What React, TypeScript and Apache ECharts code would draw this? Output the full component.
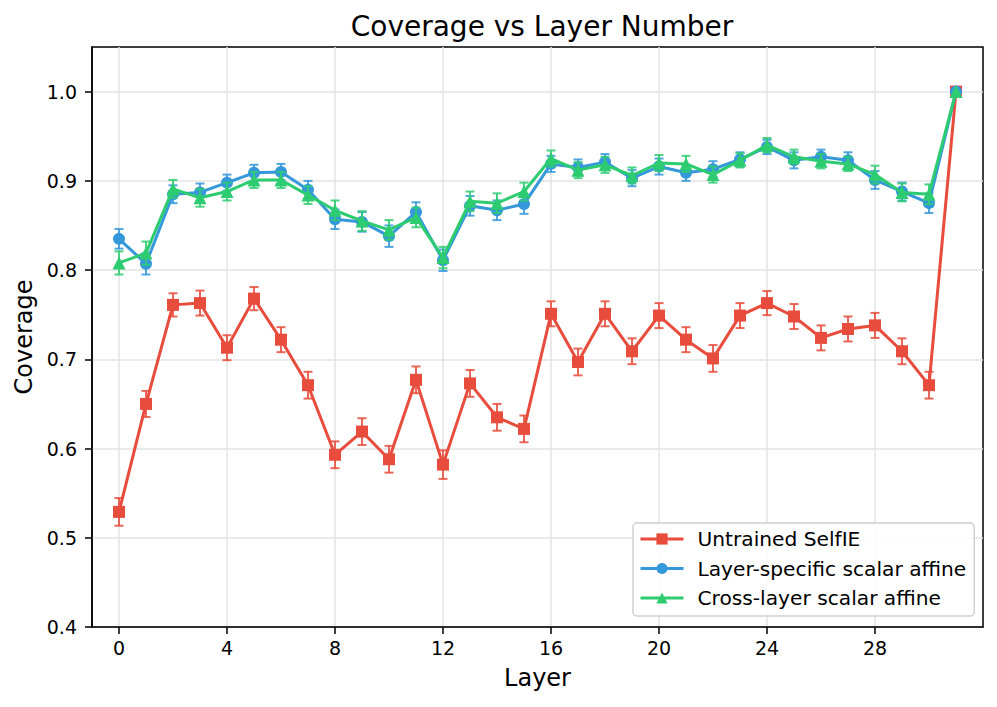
import React, { useEffect, useRef } from "react";
import * as echarts from "echarts";

const layers: number[] = Array.from({ length: 32 }, (_, i) => i);
const xTicks = [0, 4, 8, 12, 16, 20, 24, 28];
const yTicks = [0.4, 0.5, 0.6, 0.7, 0.8, 0.9, 1.0];

const seriesNames = ["Untrained SelfIE", "Layer-specific scalar affine", "Cross-layer scalar affine"];

const untrained = [0.529, 0.650, 0.761, 0.763, 0.713, 0.768, 0.722, 0.671, 0.593, 0.619, 0.588, 0.677, 0.582, 0.673, 0.635, 0.622, 0.751, 0.697, 0.751, 0.709, 0.749, 0.722, 0.701, 0.749, 0.763, 0.748, 0.724, 0.734, 0.738, 0.709, 0.671, 1.0];
const untrainedErr = [0.0155, 0.0146, 0.013, 0.014, 0.014, 0.013, 0.014, 0.015, 0.015, 0.015, 0.015, 0.015, 0.016, 0.015, 0.015, 0.015, 0.014, 0.015, 0.014, 0.0145, 0.014, 0.014, 0.015, 0.014, 0.0135, 0.014, 0.014, 0.014, 0.014, 0.0145, 0.015, 0];

const layerSpecific = [0.835, 0.807, 0.885, 0.887, 0.898, 0.909, 0.910, 0.890, 0.857, 0.854, 0.838, 0.865, 0.811, 0.872, 0.867, 0.874, 0.919, 0.915, 0.921, 0.903, 0.916, 0.909, 0.913, 0.924, 0.938, 0.923, 0.927, 0.923, 0.901, 0.888, 0.875, 1.0];
const layerSpecificErr = [0.011, 0.012, 0.010, 0.010, 0.009, 0.009, 0.009, 0.010, 0.011, 0.011, 0.012, 0.011, 0.012, 0.011, 0.011, 0.011, 0.009, 0.009, 0.009, 0.009, 0.009, 0.009, 0.009, 0.008, 0.008, 0.009, 0.008, 0.009, 0.010, 0.010, 0.011, 0];

const crossLayer = [0.808, 0.819, 0.891, 0.881, 0.888, 0.901, 0.901, 0.884, 0.867, 0.855, 0.845, 0.859, 0.814, 0.877, 0.875, 0.888, 0.925, 0.912, 0.918, 0.906, 0.920, 0.919, 0.907, 0.923, 0.940, 0.927, 0.922, 0.919, 0.907, 0.887, 0.885, 1.0];
const crossLayerErr = [0.013, 0.013, 0.010, 0.010, 0.010, 0.009, 0.009, 0.010, 0.011, 0.011, 0.011, 0.011, 0.012, 0.011, 0.011, 0.010, 0.009, 0.009, 0.009, 0.009, 0.009, 0.009, 0.009, 0.008, 0.008, 0.008, 0.008, 0.008, 0.010, 0.010, 0.011, 0];

const colors = ["#e74c3c", "#3498db", "#2ecc71"];
const symbols = ["rect", "circle", "triangle"];
const symbolSizes = [12, 12, 13];

const FONT = "DejaVu Sans";

function errSeries(vals: number[], errs: number[], color: string, z: number, id: string) {
  return {
    type: "custom",
    name: id,
    z,
    silent: true,
    data: vals.map((v, i) => [layers[i], v - errs[i], v + errs[i]]),
    encode: { x: 0, y: [1, 2] },
    renderItem: (_params: any, api: any) => {
      const x = api.value(0);
      const lo = api.value(1);
      const hi = api.value(2);
      if (hi - lo <= 0) return { type: "group", children: [] };
      const top = api.coord([x, hi]);
      const bot = api.coord([x, lo]);
      const cw = 4.5;
      const st = { stroke: color, lineWidth: 2, opacity: 0.85 };
      return {
        type: "group",
        children: [
          { type: "line", shape: { x1: top[0], y1: top[1], x2: bot[0], y2: bot[1] }, style: st },
          { type: "line", shape: { x1: top[0] - cw, y1: top[1], x2: top[0] + cw, y2: top[1] }, style: st },
          { type: "line", shape: { x1: bot[0] - cw, y1: bot[1], x2: bot[0] + cw, y2: bot[1] }, style: st },
        ],
      };
    },
  };
}

function lineSeries(idx: number, vals: number[], z: number) {
  return {
    type: "line",
    name: seriesNames[idx],
    z,
    data: vals.map((v, i) => [layers[i], v]),
    symbol: symbols[idx],
    symbolSize: symbolSizes[idx],
    showAllSymbol: true,
    lineStyle: { color: colors[idx], width: 3 },
    itemStyle: { color: colors[idx] },
    emphasis: { disabled: true },
  };
}

export default function App() {
  const ref = useRef<HTMLDivElement>(null);
  useEffect(() => {
    if (!ref.current) return;
    const chart = echarts.init(ref.current, undefined, { renderer: "svg" });
    chart.setOption({
      animation: false,
      backgroundColor: "#fff",
      title: {
        text: "Coverage vs Layer Number",
        left: 537,
        textAlign: "center",
        top: 7,
        textStyle: { fontFamily: FONT, fontSize: 28, fontWeight: "normal", color: "#000" },
      },
      grid: {
        left: 92,
        right: 14,
        top: 47,
        bottom: 80,
        show: true,
        borderColor: "#000",
        borderWidth: 1.5,
        backgroundColor: "transparent",
      },
      legend: {
        data: seriesNames,
        orient: "vertical",
        left: 633,
        top: 523,
        padding: [6, 8, 8, 6],
        itemWidth: 43,
        itemHeight: 14,
        itemGap: 9.5,
        lineStyle: { width: 3 },
        backgroundColor: "rgba(255,255,255,0.85)",
        borderColor: "#d0d0d0",
        borderWidth: 1.5,
        borderRadius: 4,
        textStyle: { fontFamily: FONT, fontSize: 20.2, color: "#000", lineHeight: 20, padding: [0, 0, 0, 9] },
      },
      xAxis: {
        type: "value",
        min: -1,
        max: 32,
        name: "Layer",
        nameLocation: "middle",
        nameGap: 39,
        nameTextStyle: { fontFamily: FONT, fontSize: 24, color: "#000" },
        axisLine: { show: true, onZero: false, lineStyle: { color: "#000", width: 1.5 } },
        axisTick: { show: true, inside: false, length: 7, lineStyle: { color: "#000", width: 1.5 }, customValues: xTicks },
        axisLabel: {
          customValues: xTicks,
          margin: 11,
          fontFamily: FONT,
          fontSize: 19,
          color: "#000",
          formatter: (v: number) => String(v),
        },
        splitLine: { show: true, lineStyle: { color: "#e3e3e3", width: 1.5 } },
      },
      yAxis: {
        type: "value",
        min: 0.4,
        max: 1.05,
        name: "Coverage",
        nameLocation: "middle",
        nameGap: 52,
        nameTextStyle: { fontFamily: FONT, fontSize: 24, color: "#000" },
        axisLine: { show: true, onZero: false, lineStyle: { color: "#000", width: 1.5 } },
        axisTick: { show: true, inside: false, length: 7, lineStyle: { color: "#000", width: 1.5 }, customValues: yTicks },
        axisLabel: {
          customValues: yTicks,
          margin: 15,
          fontFamily: FONT,
          fontSize: 19,
          color: "#000",
          formatter: (v: number) => v.toFixed(1),
        },
        splitLine: { show: true, lineStyle: { color: "#e3e3e3", width: 1.5 } },
      },
      series: [
        errSeries(untrained, untrainedErr, colors[0], 2, "err-untrained"),
        lineSeries(0, untrained, 3),
        errSeries(layerSpecific, layerSpecificErr, colors[1], 4, "err-layer-specific"),
        lineSeries(1, layerSpecific, 5),
        errSeries(crossLayer, crossLayerErr, colors[2], 6, "err-cross-layer"),
        lineSeries(2, crossLayer, 7),
      ],
    });
    return () => chart.dispose();
  }, []);
  return <div ref={ref} style={{ position: "absolute", left: 0, top: 0, width: 997, height: 707 }} />;
}
